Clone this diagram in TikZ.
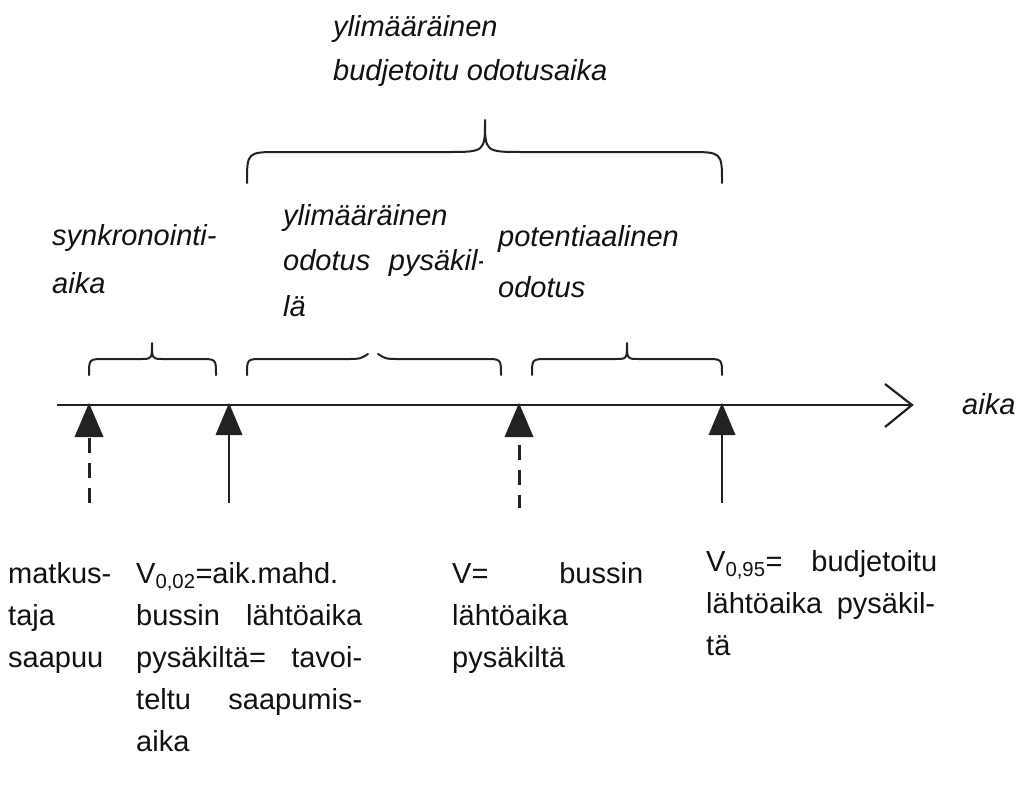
\documentclass[tikz,border=0pt]{standalone}
\usepackage{fontspec}
\setmainfont{Liberation Sans}
\definecolor{ink}{HTML}{222222}
\definecolor{txt}{HTML}{111111}
\begin{document}
\begin{tikzpicture}[x=1pt,y=-1pt,
  lbl/.style={inner sep=0pt, anchor=base west, font=\fontsize{29}{29}\selectfont, text=txt},
  ilbl/.style={inner sep=0pt, anchor=base west, font=\fontsize{29}{29}\selectfont\itshape, text=txt},
  axisline/.style={line width=2.2pt, draw=ink, line join=miter},
  bracestyle/.style={line width=2pt, draw=ink, line cap=round, line join=round},
  tri/.style={fill=ink},
  solidstem/.style={line width=2.2pt, draw=ink},
  dashstem/.style={line width=3pt, draw=ink, dash pattern=on 15pt off 10pt}]
\useasboundingbox (0,0) rectangle (1019,787);

% time axis
\coordinate (axs) at (57,405);
\coordinate (axe) at (912,405);
\coordinate (wingU) at (885,384);
\coordinate (wingD) at (885,427);
\draw[axisline] (axs) -- (axe);
\draw[axisline] (wingU) -- (axe) -- (wingD);
\node[ilbl] (aika) at (962,414) {aika};

% event markers
\fill[tri] (89,403) -- (74.5,437) -- (103.5,437) -- cycle;
\fill[tri] (229,403) -- (215.5,435) -- (242.5,435) -- cycle;
\fill[tri] (519,403) -- (504.5,437) -- (533.5,437) -- cycle;
\fill[tri] (722,403) -- (708.5,435) -- (735.5,435) -- cycle;
\coordinate (a1) at (89,438);  \coordinate (a2) at (89,503);
\coordinate (b1) at (229,435); \coordinate (b2) at (229,503);
\coordinate (c1) at (519,445); \coordinate (c2) at (519,508);
\coordinate (d1) at (722,435); \coordinate (d2) at (722,503);
\draw[dashstem] (a1) -- (a2);
\draw[solidstem] (b1) -- (b2);
\draw[dashstem] (c1) -- (c2);
\draw[solidstem] (d1) -- (d2);

% braces
\draw[bracestyle] (89,375) .. controls (89,359) .. (105,359) -- (141,359)
  .. controls (152,359) .. (152,343) .. controls (152,359) .. (163,359)
  -- (200,359) .. controls (216,359) .. (216,375);
\draw[bracestyle] (247,375) .. controls (247,359) .. (263,359) -- (348,359)
  .. controls (360,359) .. (368,354);
\draw[bracestyle] (378,354) .. controls (386,359) .. (398,359) -- (485,359)
  .. controls (501,359) .. (501,375);
\draw[bracestyle] (532,375) .. controls (532,359) .. (548,359) -- (615,359)
  .. controls (627,359) .. (627,343) .. controls (627,359) .. (639,359)
  -- (706,359) .. controls (722,359) .. (722,375);
\draw[bracestyle] (247,183) .. controls (247,152) .. (280,152) -- (447,152)
  .. controls (485,152) .. (485,120) .. controls (485,152) .. (523,152)
  -- (688,152) .. controls (722,152) .. (722,183);

% upper labels
\node[ilbl] (t1) at (333,36) {ylimääräinen};
\node[ilbl] (t2) at (333,80) {budjetoitu odotusaika};
\node[ilbl] (s1) at (52,245) {synkronointi-};
\node[ilbl] (s2) at (52,293) {aika};
\node[ilbl] (y1) at (283,225) {ylimääräinen};
\begin{scope}
  \clip (270,240) rectangle (482,300);
  \node[ilbl] (y2) at (283,270) {\makebox[204pt][s]{odotus pysäkil-}};
\end{scope}
\node[ilbl] (y3) at (283,316) {lä};
\node[ilbl] (p1) at (498,246) {potentiaalinen};
\node[ilbl] (p2) at (498,297) {odotus};

% lower labels
\node[lbl] (m1) at (8,583) {matkus-};
\node[lbl] (m2) at (8,625) {taja};
\node[lbl] (m3) at (8,667) {saapuu};

\node[lbl] (v1) at (136,583) {V\textsubscript{0,02}=aik.mahd.};
\node[lbl] (v2) at (136,625) {\makebox[226pt][s]{bussin lähtöaika}};
\node[lbl] (v3) at (136,667) {\makebox[226pt][s]{pysäkiltä= tavoi-}};
\node[lbl] (v4) at (136,709) {\makebox[226pt][s]{teltu saapumis-}};
\node[lbl] (v5) at (136,751) {aika};

\node[lbl] (w1) at (452,583) {\makebox[191pt][s]{V= bussin}};
\node[lbl] (w2) at (452,625) {lähtöaika};
\node[lbl] (w3) at (452,667) {pysäkiltä};

\node[lbl] (x1) at (706,571) {\makebox[231pt][s]{V\textsubscript{0,95}= budjetoitu}};
\node[lbl] (x2) at (706,613) {\makebox[229pt][s]{lähtöaika pysäkil-}};
\node[lbl] (x3) at (706,655) {tä};
\end{tikzpicture}
\end{document}
